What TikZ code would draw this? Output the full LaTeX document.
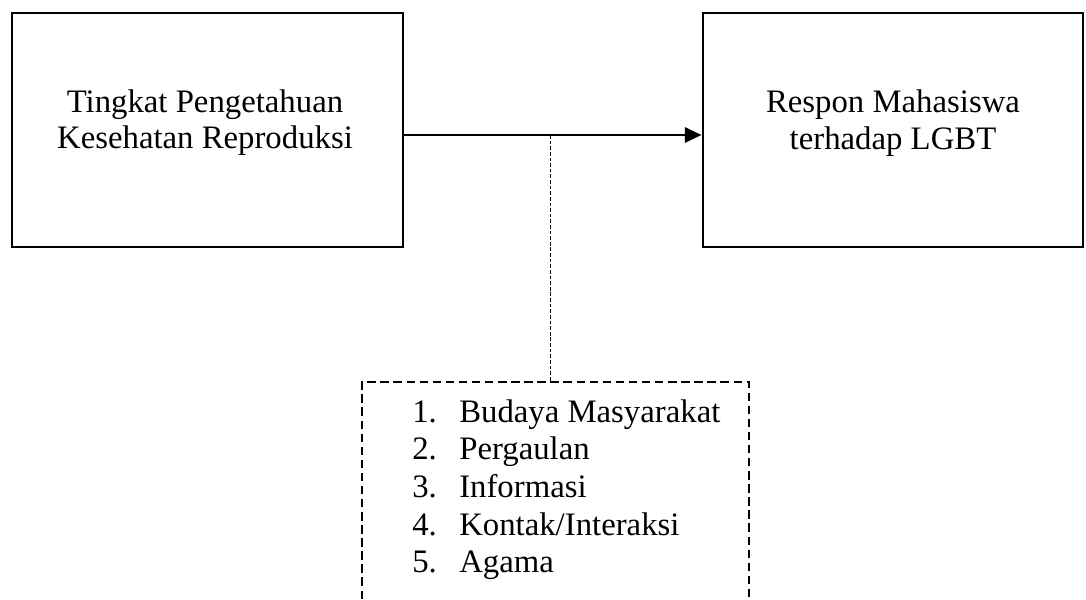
\documentclass[tikz,border=0pt]{standalone}
\usepackage{fontspec}
\setmainfont{Liberation Serif}
\usetikzlibrary{arrows.meta,fit}

\begin{document}
\begin{tikzpicture}[
		x=0.025cm,
		y=-0.025cm,
		kotak/.style={draw, line width=2pt, inner sep=0pt},
		teks/.style={font=\fontsize{23.3}{26}\selectfont, anchor=base, inner sep=0pt}
	]
		\useasboundingbox (0,0) rectangle (1086,599);

		% kotak kiri dan kanan
		\node[kotak, fit={(12,13) (403,247)}] (kiri) {};
		\node[kotak, fit={(703,13) (1083,247)}] (kanan) {};

		\node[teks] (kiri1) at (205,112) {Tingkat Pengetahuan};
		\node[teks] (kiri2) at (205,148) {Kesehatan Reproduksi};
		\node[teks] (kanan1) at (893,112) {Respon Mahasiswa};
		\node[teks] (kanan2) at (893,149) {terhadap LGBT};

		% panah utama
		\coordinate (tengah) at (550,135);
		\draw[line width=1.8pt, -{Triangle[length=0.42cm, width=0.38cm]}] (kiri.east |- tengah) -- (kanan.west |- tengah);

		% garis putus-putus ke faktor
		\coordinate (faktorAtas) at (550,382);
		\draw[line width=0.7pt, dash pattern=on 2.6pt off 1.4pt] (tengah) -- (faktorAtas);

		% kotak faktor, terbuka di bawah
		\draw[line width=1.7pt, dash pattern=on 6pt off 3.3pt] (362,599) -- (362,382) -- (749,382) -- (749,599);

		\foreach \i/\isi in {1/Budaya Masyarakat, 2/Pergaulan, 3/Informasi, 4/{Kontak/Interaksi}, 5/Agama} {
			\node[teks, anchor=base west] (no\i) at (412, 384.3+37.7*\i) {\i.};
			\node[teks, anchor=base west] (isi\i) at (459, 384.3+37.7*\i) {\isi};
		}

	\end{tikzpicture}
\end{document}
